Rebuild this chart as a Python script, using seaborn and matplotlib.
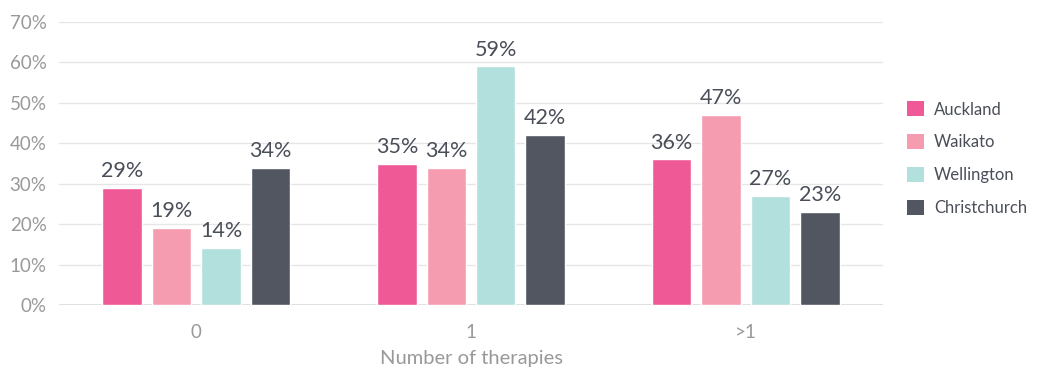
import matplotlib
matplotlib.use("Agg")
import matplotlib.pyplot as plt
import seaborn as sns
import pandas as pd
from matplotlib.patches import Patch

categories = ["0", "1", ">1"]
regions = ["Auckland", "Waikato", "Wellington", "Christchurch"]
auckland = [29, 35, 36]
waikato = [19, 34, 47]
wellington = [14, 59, 27]
christchurch = [34, 42, 23]
colors = ["#EF5A96", "#F59CB0", "#B2E0DC", "#525661"]

rows = []
for reg, vals in zip(regions, [auckland, waikato, wellington, christchurch]):
    for c, v in zip(categories, vals):
        rows.append({"cat": c, "region": reg, "value": v})
df = pd.DataFrame(rows)

sns.set_theme(style="white")
plt.rcParams["font.family"] = ["Lato", "DejaVu Sans"]

fig = plt.figure(figsize=(10.38, 3.69), dpi=100)
ax = fig.add_axes([59/1038, 1-305/369, 824/1038, 283/369])

sns.barplot(data=df, x="cat", y="value", hue="region", order=categories,
            hue_order=regions, palette=colors, width=0.72, gap=0.2,
            saturation=1, errorbar=None, ax=ax, legend=False, zorder=3)

for cont in ax.containers:
    labels = [f"{int(round(b.get_height()))}%" for b in cont]
    ax.bar_label(cont, labels=labels, padding=5, fontsize=15.5, color="#4A4E59")

ax.set_xlim(-0.5, 2.5)
ax.set_ylim(0, 70)
ax.set_yticks(range(0, 71, 10))
ax.set_yticklabels([f"{t}%" for t in range(0, 71, 10)])
ax.yaxis.grid(True, color="#E6E6E6", linewidth=1, zorder=0)
ax.set_axisbelow(True)
for s in ax.spines.values():
    s.set_visible(False)
ax.axhline(0, color="#E0E0E0", linewidth=1.5, zorder=1)
ax.tick_params(axis="both", length=0, labelsize=13.5, colors="#999999")
ax.tick_params(axis="y", pad=9)
ax.tick_params(axis="x", pad=14)
ax.set_xlabel("Number of therapies", fontsize=14.5, color="#999999", labelpad=6)
ax.set_ylabel("")

handles = [Patch(facecolor=c, edgecolor="none") for c in colors]
fig.legend(handles, regions, loc="center left", bbox_to_anchor=(0.874, 0.570),
           frameon=False, fontsize=12, labelcolor="#4A4E59", borderaxespad=0,
           borderpad=0, handlelength=1.0, handleheight=1.0, handletextpad=0.6,
           labelspacing=1.0)

fig.savefig("out.png", dpi=100)
